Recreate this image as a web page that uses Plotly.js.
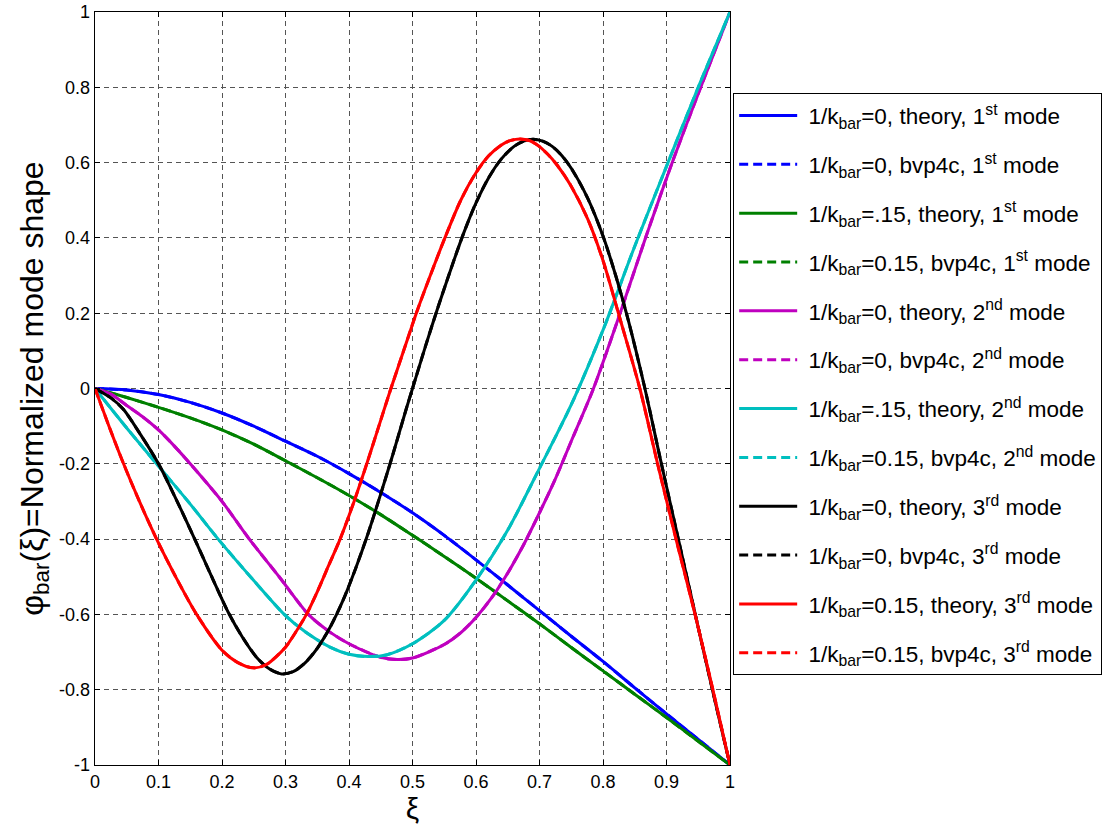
<!DOCTYPE html>
<html>
<head>
<meta charset="utf-8">
<script src="https://cdn.plot.ly/plotly-3.0.1.min.js"></script>
<style>html,body{margin:0;padding:0;background:#fff;}#chart{width:1110px;height:834px;}</style>
</head>
<body>
<div id="chart"></div>
<script>
// ---- data ----
const xMode1 = [0,0.05,0.1,0.15,0.2,0.25,0.3,0.35,0.4,0.45,0.5,0.55,0.6,0.65,0.7,0.75,0.8,0.85,0.9,0.95,1];
const yK0Mode1 = [0,-0.004,-0.016,-0.037,-0.065,-0.1,-0.14,-0.18,-0.226,-0.276,-0.33,-0.39,-0.455,-0.522,-0.59,-0.658,-0.725,-0.795,-0.864,-0.932,-1];
const yK15Mode1 = [0,-0.024,-0.05,-0.078,-0.11,-0.148,-0.192,-0.237,-0.284,-0.335,-0.39,-0.446,-0.504,-0.564,-0.625,-0.688,-0.75,-0.812,-0.874,-0.937,-1];

const xK0Mode2 = [0,0.025,0.05,0.075,0.1,0.125,0.15,0.2,0.243,0.29,0.336,0.37,0.4,0.45,0.476,0.5,0.55,0.575,0.6,0.625,0.65,0.675,0.7,0.725,0.75,0.785,0.828,0.868,0.91,0.955,1];
const yK0Mode2 = [0,-0.015,-0.045,-0.075,-0.11,-0.153,-0.2,-0.3,-0.4,-0.5,-0.6,-0.647,-0.678,-0.714,-0.72,-0.716,-0.68,-0.65,-0.608,-0.555,-0.49,-0.415,-0.33,-0.24,-0.14,0,0.205,0.405,0.605,0.805,1];

const xK15Mode2 = [0,0.05,0.097,0.15,0.194,0.25,0.298,0.33,0.37,0.4,0.43,0.46,0.5,0.55,0.6,0.65,0.7,0.75,0.8,0.85,0.9,0.95,1];
const yK15Mode2 = [0,-0.105,-0.2,-0.307,-0.4,-0.51,-0.6,-0.645,-0.687,-0.706,-0.712,-0.707,-0.678,-0.616,-0.509,-0.376,-0.212,-0.043,0.155,0.378,0.59,0.8,1];

const xK0Mode3 = [0,0.025,0.045,0.07,0.1,0.128,0.157,0.183,0.21,0.232,0.255,0.275,0.294,0.312,0.33,0.35,0.37,0.39,0.41,0.43,0.45,0.47,0.49,0.5,0.52,0.54,0.56,0.58,0.6,0.62,0.64,0.66,0.675,0.69,0.705,0.72,0.735,0.75,0.776,0.8,0.82,0.84,0.866,0.89,0.92,0.95,0.975,1];
const yK0Mode3 = [0,-0.025,-0.056,-0.118,-0.2,-0.295,-0.4,-0.497,-0.595,-0.66,-0.715,-0.745,-0.758,-0.752,-0.73,-0.69,-0.635,-0.565,-0.48,-0.385,-0.28,-0.17,-0.055,0,0.11,0.215,0.315,0.41,0.493,0.56,0.61,0.643,0.657,0.662,0.657,0.643,0.619,0.585,0.505,0.405,0.3,0.18,0,-0.185,-0.41,-0.635,-0.82,-1];

const xK15Mode3 = [0,0.022,0.045,0.07,0.097,0.127,0.16,0.2,0.225,0.249,0.27,0.3,0.315,0.333,0.35,0.368,0.386,0.408,0.428,0.447,0.466,0.486,0.506,0.528,0.551,0.576,0.6,0.62,0.64,0.655,0.669,0.685,0.698,0.713,0.727,0.749,0.776,0.8,0.826,0.858,0.886,0.915,0.945,0.973,1];
const yK15Mode3 = [0,-0.1,-0.2,-0.3,-0.4,-0.5,-0.6,-0.695,-0.728,-0.742,-0.733,-0.687,-0.65,-0.6,-0.54,-0.47,-0.4,-0.3,-0.2,-0.1,0,0.1,0.2,0.3,0.4,0.5,0.573,0.618,0.647,0.659,0.663,0.658,0.645,0.622,0.595,0.54,0.45,0.34,0.19,0,-0.2,-0.4,-0.6,-0.8,-1];

const seriesNames = [
  '1/k<sub>bar</sub>=0, theory, 1<sup>st</sup> mode',
  '1/k<sub>bar</sub>=0, bvp4c, 1<sup>st</sup> mode',
  '1/k<sub>bar</sub>=.15, theory, 1<sup>st</sup> mode',
  '1/k<sub>bar</sub>=0.15, bvp4c, 1<sup>st</sup> mode',
  '1/k<sub>bar</sub>=0, theory, 2<sup>nd</sup> mode',
  '1/k<sub>bar</sub>=0, bvp4c, 2<sup>nd</sup> mode',
  '1/k<sub>bar</sub>=.15, theory, 2<sup>nd</sup> mode',
  '1/k<sub>bar</sub>=0.15, bvp4c, 2<sup>nd</sup> mode',
  '1/k<sub>bar</sub>=0, theory, 3<sup>rd</sup> mode',
  '1/k<sub>bar</sub>=0, bvp4c, 3<sup>rd</sup> mode',
  '1/k<sub>bar</sub>=0.15, theory, 3<sup>rd</sup> mode',
  '1/k<sub>bar</sub>=0.15, bvp4c, 3<sup>rd</sup> mode'
];
const xTickVals = [0,0.1,0.2,0.3,0.4,0.5,0.6,0.7,0.8,0.9,1];
const xTickText = ['0','0.1','0.2','0.3','0.4','0.5','0.6','0.7','0.8','0.9','1'];
const yTickVals = [-1,-0.8,-0.6,-0.4,-0.2,0,0.2,0.4,0.6,0.8,1];
const yTickText = ['-1','-0.8','-0.6','-0.4','-0.2','0','0.2','0.4','0.6','0.8','1'];

// ---- traces ----
const curves = [
  [xMode1, yK0Mode1, '#0000ff'],
  [xMode1, yK15Mode1, '#008000'],
  [xK0Mode2, yK0Mode2, '#bf00bf'],
  [xK15Mode2, yK15Mode2, '#00bfbf'],
  [xK0Mode3, yK0Mode3, '#000000'],
  [xK15Mode3, yK15Mode3, '#ff0000']
];
const traces = [];
curves.forEach((c, i) => {
  ['solid', '9px,5px'].forEach((d, j) => {
    const k = 2 * i + j;
    traces.push({
      x: c[0], y: c[1], type: 'scatter', mode: 'lines',
      name: '\u00a0' + seriesNames[k], legendgroup: 'g' + k,
      line: {color: c[2], width: 3, dash: d, shape: 'spline', smoothing: 0.8}
    });
  });
});

const FONT = 'Liberation Sans, Arial, sans-serif';
const axisCommon = {
  showline: true, linecolor: '#000', linewidth: 1.3, mirror: 'ticks',
  ticks: 'inside', ticklen: 5, tickcolor: '#000', tickwidth: 1,
  showgrid: true, gridcolor: '#555', gridwidth: 1, griddash: '5px,4px',
  zeroline: false, tickmode: 'array', automargin: false,
  tickfont: {family: FONT, size: 18, color: '#000'}
};

const layout = {
  width: 1110, height: 834,
  paper_bgcolor: '#fff', plot_bgcolor: '#fff',
  margin: {l: 95, r: 380, t: 12, b: 69, autoexpand: false},
  font: {family: FONT, color: '#000'},
  xaxis: Object.assign({}, axisCommon, {
    range: [0, 1], tickvals: xTickVals, ticktext: xTickText,
    title: {text: 'ξ', font: {size: 30, family: FONT}, standoff: 4}
  }),
  yaxis: Object.assign({}, axisCommon, {
    range: [-1, 1], tickvals: yTickVals, ticktext: yTickText,
    title: {text: 'φ<sub>bar</sub>(ξ)=Normalized mode shape', font: {size: 32, family: FONT}, standoff: 6}
  }),
  showlegend: true,
  legend: {
    x: 1.005, y: 0.892, xanchor: 'left', yanchor: 'top',
    bgcolor: '#fff', bordercolor: '#000', borderwidth: 1,
    font: {family: FONT, size: 22.5, color: '#000'},
    traceorder: 'grouped', tracegroupgap: 16.6, itemwidth: 58
  }
};

Plotly.newPlot('chart', traces, layout, {displayModeBar: false, staticPlot: true});
</script>
</body>
</html>
